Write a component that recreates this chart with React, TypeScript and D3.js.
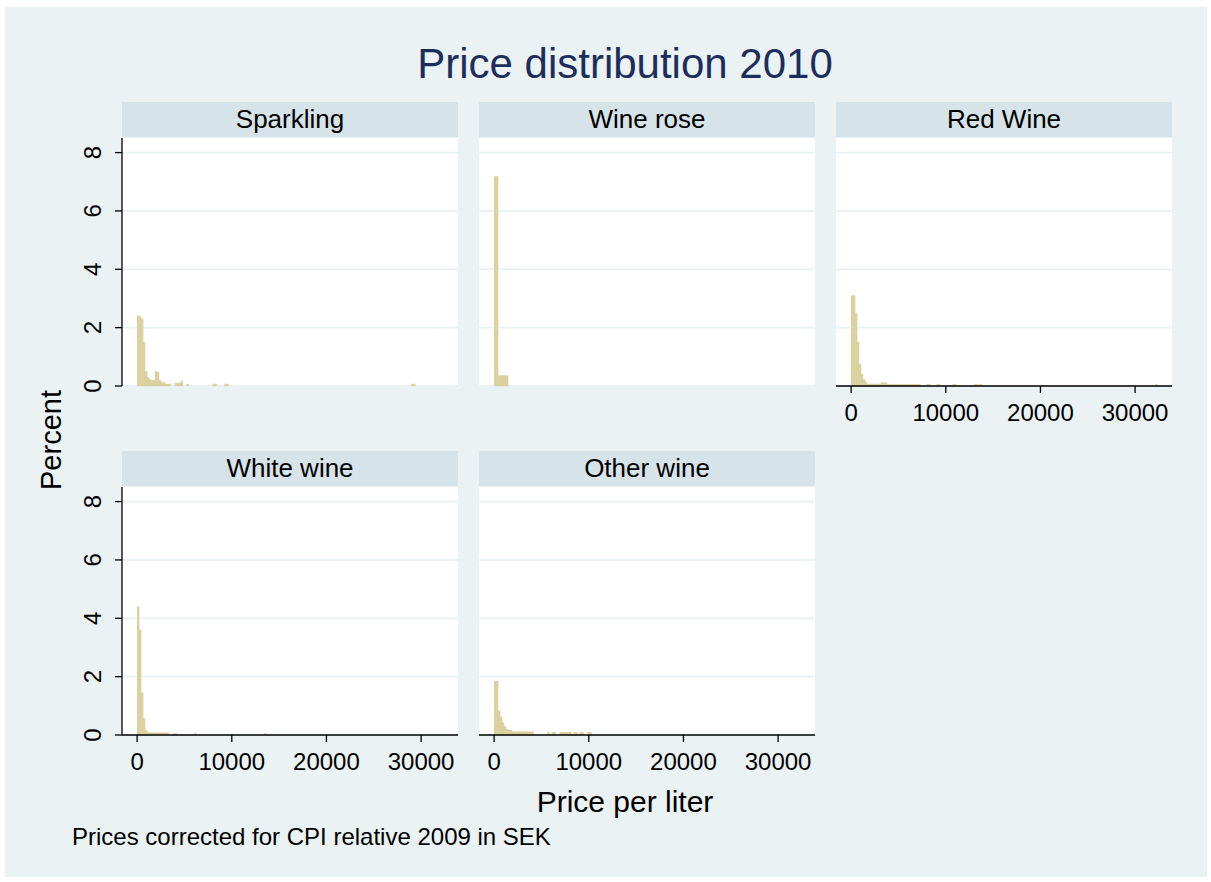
import React from "react";
import * as d3 from "d3";

// ---- data (bin width in SEK per liter, bin index -> percent) ----
const BIN = 210;

const sparklingBin = [0, 1, 2, 3, 4, 5, 6, 7, 8, 9, 10, 11, 12, 13, 14, 15, 16, 19, 20, 21, 22, 25, 38, 39, 44, 45, 138, 139];
const sparklingPct = [2.41, 2.38, 2.3, 1.5, 0.5, 0.3, 0.22, 0.2, 0.2, 0.5, 0.48, 0.2, 0.12, 0.12, 0.07, 0.07, 0.07, 0.1, 0.1, 0.1, 0.17, 0.07, 0.07, 0.07, 0.07, 0.07, 0.07, 0.07];

const roseBin = [0, 1, 2, 3, 4, 5, 6];
const rosePct = [7.18, 7.18, 0.35, 0.35, 0.35, 0.35, 0.35];

const redBin = [0, 1, 2, 3, 4, 5, 6, 7, 8, 9, 10, 11, 12, 13, 14, 15, 16, 17,
  18, 19, 20, 21, 22, 23, 24, 25, 26, 27, 28, 29, 30, 31, 32, 33, 34,
  38, 39, 43, 44, 51, 52, 62, 63, 64, 65, 153];
const redPct = [3.1, 3.1, 2.49, 1.5, 0.75, 0.4, 0.22, 0.13, 0.07, 0.07, 0.07, 0.07, 0.07, 0.07, 0.07, 0.11, 0.11, 0.11,
  0.06, 0.06, 0.06, 0.06, 0.06, 0.06, 0.06, 0.06, 0.06, 0.06, 0.06, 0.06, 0.06, 0.06, 0.06, 0.06, 0.06,
  0.06, 0.06, 0.06, 0.06, 0.06, 0.06, 0.06, 0.06, 0.06, 0.06, 0.06];

const whiteBin = [0, 1, 2, 3, 4, 5, 6, 7, 8, 9, 10, 11, 12, 13, 14, 15, 18, 19, 29, 64];
const whitePct = [4.4, 3.6, 1.45, 0.55, 0.17, 0.09, 0.08, 0.08, 0.08, 0.08, 0.08, 0.08, 0.08, 0.08, 0.08, 0.08, 0.06, 0.06, 0.06, 0.06];

const otherBin = [0, 1, 2, 3, 4, 5, 6, 7, 8, 9, 10, 11, 12, 13, 14, 15, 16, 17, 18, 19,
  27, 29, 30, 33, 34, 35, 36, 37, 38, 40, 41, 43, 44, 47, 48];
const otherPct = [1.85, 1.85, 0.82, 0.63, 0.42, 0.29, 0.2, 0.17, 0.17, 0.11, 0.11, 0.11, 0.11, 0.11, 0.11, 0.11, 0.11, 0.11, 0.11, 0.11,
  0.1, 0.1, 0.1, 0.1, 0.1, 0.1, 0.1, 0.1, 0.1, 0.1, 0.1, 0.1, 0.1, 0.1, 0.1];

const panelTitles = ["Sparkling", "Wine rose", "Red Wine", "White wine", "Other wine"];
const xTicks = [0, 10000, 20000, 30000];
const yTicks = [0, 2, 4, 6, 8];

const TITLE = "Price distribution 2010";
const X_TITLE = "Price per liter";
const Y_TITLE = "Percent";
const NOTE = "Prices corrected for CPI relative 2009 in SEK";

// ---- layout ----
const W = 1211;
const H = 882;
const FONT = "'Liberation Sans', Arial, Helvetica, sans-serif";
const BG = "#eaf2f3";
const STRIP = "#d6e3e8";
const BAR = "#d9d09c";
const GRID = "#e8f1f3";
const TITLE_COLOR = "#1d2e5c";

const PW = 336;
const PH = 248;
const colX = [122, 479, 836];
const rowTop = [138, 487];
const STRIP_H = 35;

const xScale = d3.scaleLinear().domain([-1600, 33900]).range([0, PW]);
const yScale = d3.scaleLinear().domain([0, 8.5]).range([PH, 0]);

const panels = [
  { title: panelTitles[0], bins: sparklingBin, pct: sparklingPct, col: 0, row: 0, yAxis: true, xAxis: false },
  { title: panelTitles[1], bins: roseBin, pct: rosePct, col: 1, row: 0, yAxis: false, xAxis: false },
  { title: panelTitles[2], bins: redBin, pct: redPct, col: 2, row: 0, yAxis: false, xAxis: true },
  { title: panelTitles[3], bins: whiteBin, pct: whitePct, col: 0, row: 1, yAxis: true, xAxis: true },
  { title: panelTitles[4], bins: otherBin, pct: otherPct, col: 1, row: 1, yAxis: false, xAxis: true },
];

function Panel({ p }: { p: (typeof panels)[number] }) {
  const x0 = colX[p.col];
  const y0 = rowTop[p.row];
  return (
    <g transform={`translate(${x0},${y0})`}>
      {/* strip */}
      <rect x={0} y={-STRIP_H - 1} width={PW} height={STRIP_H} fill={STRIP} />
      <text x={PW / 2} y={-10} textAnchor="middle" fontSize={26} fill="#000" fontFamily={FONT}>
        {p.title}
      </text>
      {/* plot region */}
      <rect x={0} y={0} width={PW} height={PH} fill="#fff" />
      {yTicks.map((t) => (
        <line key={t} x1={0} x2={PW} y1={yScale(t)} y2={yScale(t)} stroke={GRID} strokeWidth={1.8} />
      ))}
      {/* bars */}
      {p.bins.map((b, i) => {
        const xa = xScale(b * BIN);
        const xb = xScale((b + 1) * BIN);
        const yv = yScale(p.pct[i]);
        return (
          <rect key={i} x={xa} y={yv} width={xb - xa} height={PH - yv} fill={BAR} stroke={BAR} strokeWidth={0.3} />
        );
      })}
      {p.yAxis && (
        <g>
          <line x1={0} x2={0} y1={0} y2={PH} stroke="#000" strokeWidth={1.3} />
          {yTicks.map((t) => (
            <g key={t} transform={`translate(0,${yScale(t)})`}>
              <line x1={-7} x2={0} y1={0} y2={0} stroke="#000" strokeWidth={1.3} />
              <text
                transform="translate(-21,0) rotate(-90)"
                textAnchor="middle"
                fontSize={24}
                fontFamily={FONT}
                fill="#000"
              >
                {t}
              </text>
            </g>
          ))}
        </g>
      )}
      {p.xAxis && (
        <g transform={`translate(0,${PH})`}>
          <line x1={0} x2={PW} y1={0} y2={0} stroke="#000" strokeWidth={1.3} />
          {xTicks.map((t) => (
            <g key={t} transform={`translate(${xScale(t)},0)`}>
              <line x1={0} x2={0} y1={0} y2={7} stroke="#000" strokeWidth={1.3} />
              <text y={35} textAnchor="middle" fontSize={24} fontFamily={FONT} fill="#000">
                {t}
              </text>
            </g>
          ))}
        </g>
      )}
    </g>
  );
}

export default function App() {
  return (
    <svg
      width={W}
      height={H}
      viewBox={`0 0 ${W} ${H}`}
      style={{ position: "absolute", left: 0, top: 0, display: "block" }}
    >
      <rect x={0} y={0} width={W} height={H} fill="#fff" />
      <rect x={5} y={7} width={1202} height={870} fill={BG} />
      <text x={625} y={78} textAnchor="middle" fontSize={42} fill={TITLE_COLOR} fontFamily={FONT}>
        {TITLE}
      </text>
      {panels.map((p) => (
        <Panel key={p.title} p={p} />
      ))}
      <text
        transform="translate(61,440) rotate(-90)"
        textAnchor="middle"
        fontSize={29}
        fontFamily={FONT}
        fill="#000"
      >
        {Y_TITLE}
      </text>
      <text x={625} y={812} textAnchor="middle" fontSize={30} fontFamily={FONT} fill="#000">
        {X_TITLE}
      </text>
      <text x={72} y={845} fontSize={24} fontFamily={FONT} fill="#000">
        {NOTE}
      </text>
    </svg>
  );
}
